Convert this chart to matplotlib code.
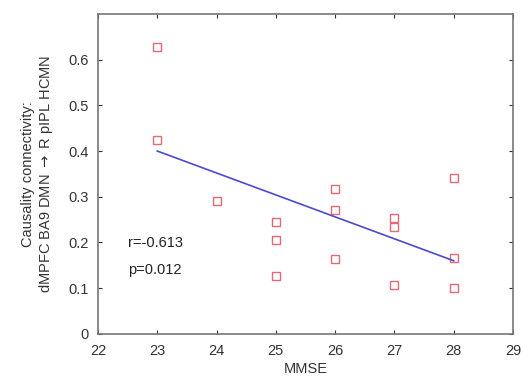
import numpy as np
import matplotlib.pyplot as plt

plt.rcParams['font.family'] = ['Liberation Sans', 'DejaVu Sans']

# data
mmse = [23, 23, 24, 25, 25, 25, 26, 26, 26, 27, 27, 27, 28, 28, 28]
causality = [0.627, 0.424, 0.291, 0.244, 0.205, 0.127, 0.316, 0.271, 0.163,
             0.253, 0.233, 0.107, 0.340, 0.167, 0.101]
fit_x = [23, 28]
fit_y = [0.400, 0.160]
r_text = "r=-0.613"
p_text = "p=0.012"
xticks = [22, 23, 24, 25, 26, 27, 28, 29]
yticks = [0, 0.1, 0.2, 0.3, 0.4, 0.5, 0.6]

fig = plt.figure(figsize=(5.24, 3.86), dpi=100)
ax = fig.add_axes([0.187, 0.135, 0.792, 0.829])

ax.plot(mmse, causality, 's', mfc='none', mec='#e06a78', ms=5.5, mew=1.0)
ax.plot(fit_x, fit_y, '-', color='#4a4ad0', lw=1.2)

ax.text(22.5, 0.199, r_text, fontsize=10.5, color='#222222', va='center', ha='left')
ax.text(22.5, 0.140, p_text, fontsize=10.5, color='#222222', va='center', ha='left')

ax.set_xlim(22, 29)
ax.set_ylim(0, 0.7)
ax.set_xticks(xticks)
ax.set_yticks(yticks)
ax.set_yticklabels(['0', '0.1', '0.2', '0.3', '0.4', '0.5', '0.6'])
ax.tick_params(direction='in', top=True, right=True, length=3,
               labelsize=10.5, colors='#333333', width=0.8)
ax.tick_params(axis='x', pad=7)
ax.tick_params(axis='y', pad=7)
for s in ax.spines.values():
    s.set_color('#777777')
    s.set_linewidth(1.2)

ax.set_xlabel("MMSE", fontsize=10.5, color='#333333', labelpad=3)
ax.set_ylabel("Causality connectivity:\ndMPFC BA9 DMN $\\rightarrow$ R pIPL HCMN",
              fontsize=10.5, color='#333333', labelpad=9)

fig.savefig("out.png", dpi=100)
